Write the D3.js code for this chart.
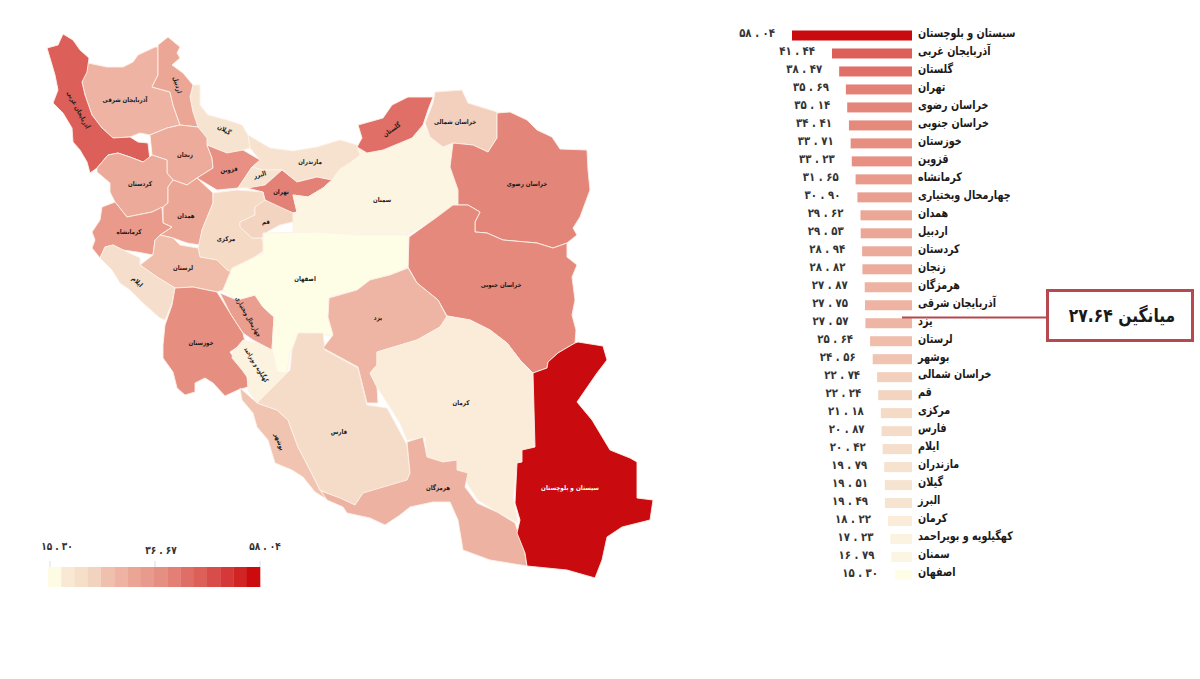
<!DOCTYPE html>
<html>
  <head>
    <meta charset="utf-8">
    <title>Iran provinces</title>
    <script src="https://d3js.org/d3.v7.min.js"></script>
    <style>
      body { margin: 0; background: #fff; }
      text { font-family: "DejaVu Sans", sans-serif; font-weight: bold; fill: #1a1a1a; }
      .bar__name { font-size: 12px; dominant-baseline: middle; }
      .bar__value { font-size: 12px; text-anchor: end; dominant-baseline: middle; fill: #333; }
      .map__label { font-size: 6.5px; text-anchor: middle; dominant-baseline: middle; }
      .legend__label { font-size: 11px; text-anchor: middle; fill: #333; }
      .mean__label { font-size: 19px; text-anchor: middle; dominant-baseline: middle; }
    </style>
  </head>
  <body>
    <svg width="1200" height="679"></svg>
    <script>
      const provinceNames = [
        "سیستان و بلوچستان", "آذربایجان غربی", "گلستان", "تهران", "خراسان رضوی", "خراسان جنوبی",
        "خوزستان", "قزوین", "کرمانشاه", "چهارمحال وبختیاری", "همدان", "اردبیل", "کردستان", "زنجان",
        "هرمزگان", "آذربایجان شرقی", "یزد", "لرستان", "بوشهر", "خراسان شمالی", "قم", "مرکزی", "فارس",
        "ایلام", "مازندران", "گیلان", "البرز", "کرمان", "کهگیلویه و بویراحمد", "سمنان", "اصفهان"
      ];
      const provinceValues = [
        58.04, 41.44, 38.47, 35.69, 35.14, 34.41, 33.71, 33.23, 31.65, 30.90, 29.62, 29.53, 28.94, 28.82,
        27.87, 27.75, 27.57, 25.64, 24.56, 22.74, 22.24, 21.18, 20.87, 20.42, 19.79, 19.51, 19.49, 18.22,
        17.23, 16.79, 15.30
      ];
      const meanValue = 27.64;
      const legendTicks = [15.30, 36.67, 58.04];
      const legendColors = [
        "#fdfbe3", "#f9e8d3", "#f6dfc9", "#f2d3bf", "#efc0ae", "#eeb3a2", "#eba595", "#e89a8c",
        "#e58e82", "#e37f75", "#df6f66", "#dc5f58", "#d84c49", "#d53838", "#d12525", "#cb0b0e"
      ];
      const colorStops = [15.3, 17.2, 18.2, 20, 22.5, 25, 27.7, 30, 34, 38.5, 41.44, 58.04];
      const colorRange = ["#fefde6", "#fbf3e0", "#faecd8", "#f6e1cd", "#f3d2bf", "#f0c0ae", "#eeb3a3",
        "#eba393", "#e68c7f", "#e06f67", "#dc5f59", "#c90a0e"];

      // outlines, in page pixels
      const provinceOutlines = {
        "مازندران": [[248,135],[270,148],[293,151],[317,147],[340,140],[357,145],[360,155],[350,163],[340,169],[332,180],[317,177],[297,182],[283,170],[263,170],[252,167],[260,160],[250,148]],
        "گیلان": [[193,85],[200,85],[200,105],[208,115],[227,120],[242,125],[248,135],[250,148],[243,150],[227,153],[207,145],[207,138],[198,127],[193,112],[190,97]],
        "آذربایجان شرقی": [[88,63],[107,67],[123,67],[133,62],[138,55],[155,47],[158,47],[158,62],[158,75],[152,87],[170,92],[173,105],[180,125],[167,128],[150,135],[140,133],[130,137],[113,138],[102,128],[92,115],[85,95],[82,82]],
        "اردبیل": [[158,45],[168,37],[180,47],[177,53],[180,58],[172,65],[183,73],[193,85],[190,97],[193,112],[198,127],[180,125],[173,105],[170,92],[152,87],[158,75],[158,62]],
        "زنجان": [[150,135],[167,128],[180,125],[198,127],[207,138],[207,145],[212,158],[213,168],[197,178],[187,185],[173,180],[167,173],[167,160],[152,155]],
        "آذربایجان غربی": [[63,34],[73,40],[80,50],[89,58],[87,72],[82,82],[85,95],[92,115],[102,128],[113,138],[130,137],[138,142],[148,143],[150,160],[143,162],[130,157],[118,153],[108,155],[97,168],[90,173],[87,162],[80,150],[73,142],[72,128],[63,113],[53,103],[58,90],[55,75],[50,58],[47,48],[58,45]],
        "قزوین": [[207,145],[227,153],[243,150],[260,160],[252,167],[238,188],[217,190],[197,178],[213,168],[212,158]],
        "البرز": [[252,167],[263,170],[283,170],[275,180],[265,187],[247,188],[238,188]],
        "تهران": [[247,188],[265,185],[282,170],[297,182],[317,177],[332,180],[323,188],[308,197],[293,195],[297,212],[293,213],[277,207],[265,200],[263,192]],
        "سمنان": [[297,212],[293,195],[308,197],[323,188],[332,180],[340,169],[350,163],[360,155],[357,147],[367,153],[383,150],[412,138],[423,125],[430,137],[443,147],[453,143],[450,167],[458,190],[458,205],[437,217],[408,235],[350,235],[293,232],[293,213]],
        "گلستان": [[358,125],[383,118],[392,105],[408,97],[433,97],[428,110],[423,125],[412,138],[383,150],[367,153],[357,147],[362,138]],
        "خراسان شمالی": [[435,92],[462,90],[468,103],[497,112],[497,138],[488,152],[473,145],[453,143],[443,147],[430,137],[425,123],[433,103]],
        "خراسان رضوی": [[497,113],[510,112],[527,120],[537,130],[552,137],[560,149],[587,150],[588,170],[590,190],[580,217],[573,228],[577,235],[567,243],[553,248],[537,243],[503,240],[487,233],[475,232],[475,222],[480,212],[468,205],[453,205],[437,217],[458,205],[458,190],[450,167],[453,143],[473,145],[488,152],[497,138]],
        "خراسان جنوبی": [[409,237],[437,217],[453,205],[468,205],[480,212],[475,222],[475,232],[487,233],[503,240],[537,243],[553,248],[567,243],[567,257],[577,265],[572,277],[575,300],[572,315],[576,330],[575,343],[563,350],[558,353],[548,362],[547,368],[533,373],[520,360],[507,343],[490,330],[470,320],[447,316],[438,300],[417,283],[408,267]],
        "کردستان": [[97,168],[108,155],[118,153],[130,157],[143,162],[152,155],[167,160],[167,173],[173,180],[168,187],[168,203],[163,207],[152,212],[127,217],[115,202],[110,192],[110,183],[97,172]],
        "همدان": [[168,187],[173,180],[187,185],[197,178],[213,193],[213,203],[202,230],[200,245],[187,243],[173,238],[160,235],[172,227],[163,223],[163,207],[168,203]],
        "کرمانشاه": [[92,232],[100,220],[102,207],[115,202],[127,217],[152,212],[162,207],[163,223],[172,227],[160,235],[155,240],[153,255],[137,252],[123,250],[113,245],[105,247],[100,258],[92,248],[95,240]],
        "مرکزی": [[213,193],[237,190],[263,192],[265,203],[255,207],[255,215],[240,222],[240,227],[252,238],[262,238],[265,250],[253,258],[232,272],[227,270],[217,260],[200,257],[198,248],[202,230],[213,203]],
        "قم": [[255,207],[265,200],[293,213],[293,222],[280,225],[267,232],[262,238],[252,238],[240,227],[240,222],[255,215]],
        "لرستان": [[140,265],[153,255],[155,240],[160,235],[173,238],[180,245],[198,248],[200,257],[217,260],[227,270],[232,272],[223,290],[217,292],[193,287],[175,288],[157,277]],
        "ایلام": [[105,247],[113,245],[123,250],[140,258],[140,265],[157,277],[175,288],[172,303],[165,320],[160,318],[143,303],[130,290],[120,283],[112,270],[100,258]],
        "خوزستان": [[175,288],[193,287],[217,292],[230,313],[243,333],[245,342],[230,352],[247,377],[248,387],[238,390],[225,396],[213,383],[205,378],[195,383],[195,392],[185,395],[177,388],[173,372],[163,358],[163,345],[165,325],[172,305]],
        "چهارمحال وبختیاری": [[220,293],[237,300],[255,295],[263,307],[274,317],[272,350],[253,340],[243,333],[230,313]],
        "اصفهان": [[263,233],[317,232],[360,235],[408,235],[408,267],[390,275],[370,280],[357,290],[330,297],[328,317],[333,335],[313,335],[300,332],[290,353],[287,373],[277,372],[272,350],[274,317],[263,307],[255,295],[237,300],[223,290],[232,268],[263,253]],
        "کهگیلویه و بویراحمد": [[233,352],[243,340],[257,343],[272,350],[277,372],[287,373],[280,380],[267,393],[257,403],[248,390],[248,377],[232,358]],
        "بوشهر": [[240,388],[257,403],[277,410],[288,420],[298,447],[310,470],[320,490],[328,500],[315,492],[303,477],[292,470],[275,463],[268,440],[257,427],[253,413],[242,400]],
        "فارس": [[267,393],[280,380],[290,370],[292,350],[298,333],[323,333],[325,350],[358,368],[367,405],[387,408],[407,445],[410,473],[407,482],[363,493],[355,505],[320,490],[310,470],[298,447],[288,420],[277,410],[257,403]],
        "یزد": [[329,298],[357,290],[370,280],[390,275],[408,268],[417,283],[438,300],[447,317],[440,327],[417,340],[377,352],[377,365],[370,373],[377,387],[378,403],[367,403],[358,367],[323,348],[333,335],[328,317]],
        "کرمان": [[377,352],[417,340],[440,327],[447,316],[470,320],[490,330],[507,343],[520,360],[533,373],[533,403],[535,447],[522,450],[522,462],[517,463],[513,497],[518,523],[497,512],[478,500],[465,480],[468,473],[455,470],[455,460],[440,462],[427,457],[425,437],[407,440],[400,423],[377,387],[370,373],[377,365]],
        "هرمزگان": [[407,442],[423,437],[427,457],[443,462],[457,460],[457,470],[468,473],[465,487],[477,503],[497,512],[515,523],[525,553],[527,566],[490,560],[463,550],[458,520],[450,502],[433,502],[410,507],[400,515],[385,525],[370,518],[347,513],[343,507],[327,500],[321,491],[340,498],[355,505],[363,493],[407,480],[410,473]],
        "سیستان و بلوچستان": [[578,342],[603,346],[607,360],[597,373],[577,402],[592,420],[610,450],[630,458],[637,462],[637,498],[653,500],[650,520],[622,527],[607,537],[602,560],[595,578],[567,570],[547,568],[527,566],[525,553],[517,533],[520,520],[515,503],[517,463],[522,462],[522,450],[535,447],[533,373],[547,368],[548,362],[558,353],[563,350],[575,343]]
      };
      // name, x, y, rotation, width squeeze
      const provinceLabels = [
        ["آذربایجان غربی", 78, 110, 62, 0.85], ["آذربایجان شرقی", 125, 100, 0, 0.85], ["اردبیل", 177, 85, 75, 0.85],
        ["زنجان", 185, 155, 0, 0.85], ["گیلان", 224, 130, 30, 0.85], ["مازندران", 310, 162, 0, 0.85], ["قزوین", 229, 170, -5, 0.85],
        ["البرز", 260, 175, -15, 0.85], ["تهران", 281, 192, 0, 0.85], ["گلستان", 392, 130, -35, 0.85], ["خراسان شمالی", 455, 122, 0, 0.85],
        ["خراسان رضوی", 527, 184, 0, 0.85], ["سمنان", 382, 200, 0, 0.85], ["کردستان", 140, 184, 0, 0.85], ["همدان", 186, 216, 0, 0.85],
        ["کرمانشاه", 129, 232, 0, 0.85], ["مرکزی", 226, 239, 0, 0.85], ["قم", 266, 222, 0, 0.85], ["لرستان", 183, 268, 0, 0.85],
        ["اصفهان", 305, 279, 0, 0.85], ["ایلام", 137, 282, 45, 0.85], ["چهارمحال وبختیاری", 248, 317, 60, 0.72], ["خوزستان", 201, 343, 0, 0.85],
        ["کهگیلویه و بویراحمد", 256, 365, 58, 0.62], ["یزد", 378, 318, 0, 0.85], ["خراسان جنوبی", 501, 285, 0, 0.85], ["کرمان", 461, 403, 0, 0.85],
        ["فارس", 339, 432, 0, 0.85], ["بوشهر", 279, 442, 70, 0.85], ["هرمزگان", 438, 488, 0, 0.85], ["سیستان و بلوچستان", 570, 488, 0, 0.88]
      ];

      const persianDigits = "۰۱۲۳۴۵۶۷۸۹";
      const toPersian = s => s.replace(/\d/g, d => persianDigits[+d]);
      const spaced = v => toPersian(d3.format(".2f")(v)).replace(".", " . ");

      const svg = d3.select("svg");
      const colorScale = d3.scaleLinear().domain(colorStops).range(colorRange);
      const valueByName = new Map(provinceNames.map((n, i) => [n, provinceValues[i]]));

      // map
      const mapPath = d3.geoPath(d3.geoIdentity());
      const mapG = svg.append("g");
      mapG.selectAll("path")
        .data(Object.keys(provinceOutlines))
        .join("path")
          .attr("d", d => mapPath({type: "Polygon", coordinates: [provinceOutlines[d].concat([provinceOutlines[d][0]])]}))
          .attr("fill", d => colorScale(valueByName.get(d)))
          .attr("stroke", "#fdf1e8")
          .attr("stroke-width", 0.9)
          .attr("stroke-linejoin", "round");
      mapG.selectAll("text")
        .data(provinceLabels)
        .join("text")
          .attr("class", "map__label")
          .attr("transform", d => `translate(${d[1]}, ${d[2]}) rotate(${d[3]}) scale(${d[4]}, 1)`)
          .style("fill", d => d[0] === provinceNames[0] ? "#fff" : "#1a1a1a")
          .text(d => d[0]);

      // bars, right aligned on the names
      const barX = d3.scaleLinear().domain([8.25, 58.04]).range([912, 792]);
      const barY = d3.scalePoint().domain(provinceNames).range([35.5, 575]);
      const barHeight = 10;
      const rows = svg.append("g").selectAll("g")
        .data(provinceNames)
        .join("g")
          .attr("transform", d => `translate(0, ${barY(d)})`);
      rows.append("rect")
        .attr("x", d => barX(valueByName.get(d)))
        .attr("y", -barHeight / 2)
        .attr("width", d => barX(8.25) - barX(valueByName.get(d)))
        .attr("height", barHeight)
        .attr("fill", d => colorScale(valueByName.get(d)));
      rows.append("text")
        .attr("class", "bar__value")
        .attr("transform", d => `translate(${barX(valueByName.get(d)) - 17}, -1.5) scale(0.85, 1)`)
        .text(d => spaced(valueByName.get(d)));
      rows.append("text")
        .attr("class", "bar__name")
        .attr("transform", "translate(918, -2) scale(0.8, 1)")
        .text(d => d);

      // mean callout
      const meanG = svg.append("g");
      meanG.append("line")
        .attr("x1", 902).attr("x2", 1047)
        .attr("y1", 317.5).attr("y2", 317.5)
        .attr("stroke", "#b5494f")
        .attr("stroke-width", 1.8);
      meanG.append("rect")
        .attr("x", 1047.5).attr("y", 290.5)
        .attr("width", 145).attr("height", 50)
        .attr("fill", "#fff")
        .attr("stroke", "#b5494f")
        .attr("stroke-width", 3);
      meanG.append("text")
        .attr("class", "mean__label")
        .attr("transform", "translate(1122, 317) scale(0.82, 1)")
        .text("میانگین " + toPersian(String(meanValue)));

      // colour legend
      const legendX = d3.scaleBand().domain(d3.range(legendColors.length)).range([48, 260]);
      const legendLabelX = d3.scaleLinear().domain([15.30, 58.04]).range([57, 265]);
      const legendTickX = d3.scaleLinear().domain([15.30, 58.04]).range([50, 260]);
      const legendG = svg.append("g");
      legendG.selectAll("rect")
        .data(legendColors)
        .join("rect")
          .attr("x", (d, i) => legendX(i))
          .attr("y", 567)
          .attr("width", legendX.bandwidth() + 0.3)
          .attr("height", 20)
          .attr("fill", d => d);
      legendG.selectAll("line")
        .data(legendTicks)
        .join("line")
          .attr("x1", legendTickX).attr("x2", legendTickX)
          .attr("y1", 561).attr("y2", 567)
          .attr("stroke", "#ddd");
      legendG.selectAll("text")
        .data(legendTicks)
        .join("text")
          .attr("class", "legend__label")
          .attr("transform", (d, i) => `translate(${legendLabelX(d)}, ${i === 1 ? 554 : 550}) scale(0.82, 1)`)
          .text(d => spaced(d));
    </script>
  </body>
</html>
